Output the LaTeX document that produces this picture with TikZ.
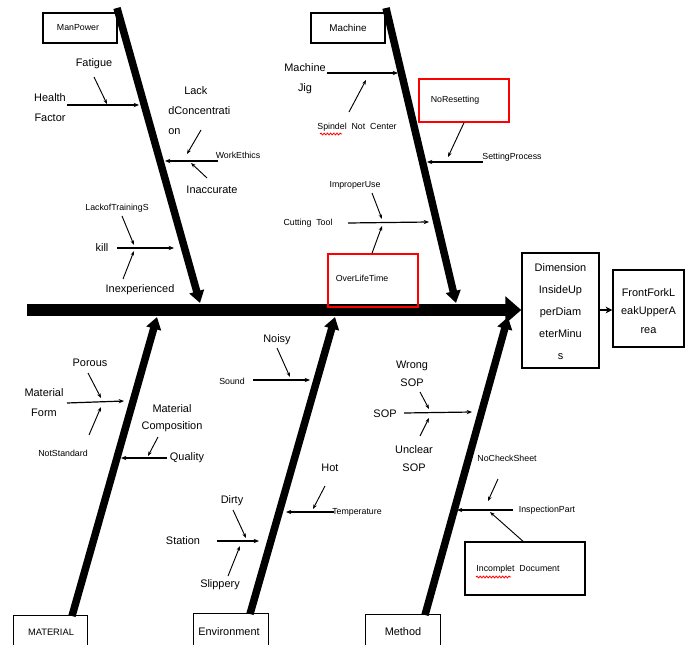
\documentclass[tikz,border=0pt]{standalone}
\usepackage{fontspec}
\setmainfont{Liberation Sans}
\usetikzlibrary{arrows.meta,decorations.pathmorphing}
\begin{document}
\begin{tikzpicture}[x=0.75pt,y=-0.75pt,
  lbl/.style={inner sep=0pt, font=\fontsize{8.2}{15}\selectfont, align=center},
  sml/.style={inner sep=0pt, font=\fontsize{6.6}{8}\selectfont},
  catbox/.style={draw, line width=1.1pt, inner sep=0pt},
  redbox/.style={draw=red, line width=1.1pt, inner sep=0pt},
  spine/.style={line width=9.5pt, -{Triangle[length=12pt,width=20pt]}},
  bone/.style={line width=5.6pt, -{Triangle[length=9pt,width=11pt]}},
  sub/.style={line width=0.9pt, -{Stealth[length=4pt,width=3.2pt]}},
  twig/.style={line width=0.7pt, -{Stealth[length=3.5pt,width=2.6pt]}},
  wavy/.style={draw=red, line width=0.6pt, decorate, decoration={snake, amplitude=0.7pt, segment length=2.4pt}}
]
\clip (0,0) rectangle (685,645);
\fill[white] (0,0) rectangle (685,645);

% ---------- head boxes ----------
\node[catbox, minimum width=57.75pt, minimum height=86.25pt] (eff) at (560.5,310.5) {};
\node[lbl, font=\fontsize{8.2}{16.5}\selectfont] (efft) at (560.5,312) {Dimension\\InsideUp\\perDiam\\eterMinu\\s};
\node[catbox, minimum width=53.25pt, minimum height=57.75pt] (eff2) at (648.5,308.5) {};
\node[lbl, font=\fontsize{8.2}{14}\selectfont] (eff2t) at (648.5,311) {FrontForkL\\eakUpperA\\rea};
\draw[line width=1.1pt, -{Stealth[length=5pt,width=5pt]}] (eff.east |- 0,310) -- (eff2.west |- 0,310);

% ---------- spine ----------
\coordinate (tail) at (27,310);
\draw[spine] (tail) -- (eff.west |- tail);

% ---------- category boxes ----------
\node[catbox, minimum width=55.5pt, minimum height=22.5pt] (mpbox) at (80,28) {};
\node[sml] (mp) at (78,28) {ManPower};
\node[catbox, minimum width=55.5pt, minimum height=22.5pt] (mcbox) at (348,28) {};
\node[lbl, font=\fontsize{7.4}{9}\selectfont] (mc) at (348,28) {Machine};
\node[catbox, anchor=north west, minimum width=55.5pt, minimum height=36pt] (mtbox) at (13,615) {};
\node[lbl, font=\fontsize{7}{9}\selectfont] (mt) at (51,632) {MATERIAL};
\node[catbox, anchor=north west, minimum width=56.25pt, minimum height=36pt] (envbox) at (193,613) {};
\node[lbl] (env) at (229,632) {Environment};
\node[catbox, anchor=north west, minimum width=56.25pt, minimum height=36pt] (mebox) at (365,614) {};
\node[lbl] (me) at (403,632) {Method};

% ---------- bones ----------
\coordinate (b1s) at (117,8);   \coordinate (b1e) at (200,303);
\coordinate (b2s) at (386,8);   \coordinate (b2e) at (456,303);
\coordinate (b3s) at (72,616);  \coordinate (b3e) at (157,317);
\coordinate (b4s) at (250,614); \coordinate (b4e) at (335,317);
\coordinate (b5s) at (425,615); \coordinate (b5e) at (508,317);
\draw[bone] (b1s) -- (b1e);
\draw[bone] (b2s) -- (b2e);
\draw[bone] (b3s) -- (b3e);
\draw[bone] (b4s) -- (b4e);
\draw[bone] (b5s) -- (b5e);

% ---------- ManPower ----------
\node[lbl] (hf) at (50,108) {Health\\Factor};
\coordinate (hfs) at (67,105); \coordinate (hfe) at (139,105);
\draw[sub] (hfs) -- (hfe);
\node[lbl] (fat) at (94,64) {Fatigue};
\coordinate (fats) at (94,77); \coordinate (fate) at (107,104);
\draw[twig] (fats) -- (fate);
\node[lbl, align=left, anchor=west] (lc) at (168,111) {\hspace*{12pt}Lack\\dConcentrati\\on};
\coordinate (lcs) at (201,130); \coordinate (lce) at (187,154);
\draw[twig] (lcs) -- (lce);
\node[sml] (we) at (238,155) {WorkEthics};
\coordinate (wes) at (218,161); \coordinate (wee) at (165,161);
\draw[sub] (wes) -- (wee);
\node[lbl] (ina) at (212,190) {Inaccurate};
\coordinate (inas) at (207,178); \coordinate (inae) at (191,163);
\draw[twig] (inas) -- (inae);
\node[sml] (lt) at (117,208) {LackofTrainingS};
\node[lbl] (kill) at (102,248) {kill};
\coordinate (kills) at (117,248); \coordinate (kille) at (174,248);
\draw[sub] (kills) -- (kille);
\coordinate (lts) at (122,216); \coordinate (lte) at (134,245);
\draw[twig] (lts) -- (lte);
\node[lbl] (iex) at (140,290) {Inexperienced};
\coordinate (iexs) at (123,279); \coordinate (iexe) at (134,251);
\draw[twig] (iexs) -- (iexe);

% ---------- Machine ----------
\node[lbl] (mj) at (305,79) {Machine\\Jig};
\coordinate (mjs) at (327,73); \coordinate (mje) at (398,73);
\draw[sub] (mjs) -- (mje);
\node[sml] (snc) at (357,127) {Spindel~~Not~~Center};
\draw[wavy] (320,134) -- (342,134);
\coordinate (sncs) at (349,112); \coordinate (snce) at (366,80);
\draw[twig] (sncs) -- (snce);
\node[redbox, minimum width=67.5pt, minimum height=32.25pt] (nr) at (464,100.5) {};
\node[sml] (nrt) at (455,100) {NoResetting};
\coordinate (nre) at (448,157);
\draw[twig] (nr.south -| 464,0) -- (nre);
\node[sml] (spr) at (512,157) {SettingProcess};
\coordinate (sprs) at (483,162); \coordinate (spre) at (427,162);
\draw[sub] (sprs) -- (spre);
\node[sml] (ct) at (308,223) {Cutting~~Tool};
\coordinate (cts) at (348,223); \coordinate (cte) at (429,222);
\draw[sub] (cts) -- (cte);
\node[sml] (iu) at (355,185) {ImproperUse};
\coordinate (ius) at (372,193); \coordinate (iue) at (382,219);
\draw[twig] (ius) -- (iue);
\node[redbox, minimum width=67.5pt, minimum height=39.75pt] (ol) at (373,280.5) {};
\node[sml] (olt) at (362,278) {OverLifeTime};
\coordinate (ole) at (382,226);
\draw[twig] (ol.north -| 372,0) -- (ole);

% ---------- Material ----------
\node[lbl] (por) at (90,363) {Porous};
\node[lbl] (mf) at (44,403) {Material\\Form};
\coordinate (mfs) at (67,403); \coordinate (mfe) at (124,401);
\draw[sub] (mfs) -- (mfe);
\coordinate (pors) at (88,373); \coordinate (pore) at (101,398);
\draw[twig] (pors) -- (pore);
\node[sml] (ns) at (63,453) {NotStandard};
\coordinate (nss) at (89,435); \coordinate (nse) at (101,407);
\draw[twig] (nss) -- (nse);
\node[lbl, font=\fontsize{8.2}{12.75}\selectfont] (mcp) at (172,418) {Material\\Composition};
\node[lbl] (q) at (187,458) {Quality};
\coordinate (qs) at (167,458); \coordinate (qe) at (121,458);
\draw[sub] (qs) -- (qe);
\coordinate (mcps) at (158,437); \coordinate (mcpe) at (148,456);
\draw[twig] (mcps) -- (mcpe);

% ---------- Environment ----------
\node[lbl] (noi) at (277,340) {Noisy};
\node[sml] (snd) at (232,381) {Sound};
\coordinate (snds) at (253,380); \coordinate (snde) at (310,380);
\draw[sub] (snds) -- (snde);
\coordinate (nois) at (277,348); \coordinate (noie) at (290,377);
\draw[twig] (nois) -- (noie);
\node[lbl] (hot) at (330,468) {Hot};
\node[sml] (tmp) at (357,512) {Temperature};
\coordinate (tmps) at (334,512); \coordinate (tmpe) at (286,512);
\draw[sub] (tmps) -- (tmpe);
\coordinate (hots) at (325,486); \coordinate (hote) at (313,509);
\draw[twig] (hots) -- (hote);
\node[lbl] (dir) at (232,501) {Dirty};
\node[lbl] (sta) at (183,541) {Station};
\coordinate (stas) at (217,541); \coordinate (stae) at (259,541);
\draw[sub] (stas) -- (stae);
\coordinate (dirs) at (233,510); \coordinate (dire) at (246,538);
\draw[twig] (dirs) -- (dire);
\node[lbl] (sli) at (220,585) {Slippery};
\coordinate (slis) at (228,576); \coordinate (slie) at (240,546);
\draw[twig] (slis) -- (slie);

% ---------- Method ----------
\node[lbl, font=\fontsize{8.2}{13.5}\selectfont] (ws) at (412,374) {Wrong\\SOP};
\node[lbl] (sop) at (385,414) {SOP};
\coordinate (sops) at (404,413); \coordinate (sope) at (472,412);
\draw[sub] (sops) -- (sope);
\coordinate (wss) at (420,392); \coordinate (wse) at (429,409);
\draw[twig] (wss) -- (wse);
\node[lbl, font=\fontsize{8.2}{13.5}\selectfont] (us) at (414,459) {Unclear\\SOP};
\coordinate (uss) at (420,436); \coordinate (use) at (429,418);
\draw[twig] (uss) -- (use);
\node[sml] (ncs) at (507,458) {NoCheckSheet};
\coordinate (ncss) at (498,479); \coordinate (ncse) at (488,501);
\draw[twig] (ncss) -- (ncse);
\node[sml] (ip) at (547,510) {InspectionPart};
\coordinate (ips) at (513,510); \coordinate (ipe) at (457,510);
\draw[sub] (ips) -- (ipe);
\node[catbox, minimum width=90pt, minimum height=39.75pt] (idbox) at (525,568.5) {};
\node[sml] (id) at (518,569) {Incomplet~~Document};
\draw[wavy] (476,577) -- (511,577);
\coordinate (ide) at (490,512);
\draw[twig] (idbox.north -| 523,0) -- (ide);
\end{tikzpicture}
\end{document}
